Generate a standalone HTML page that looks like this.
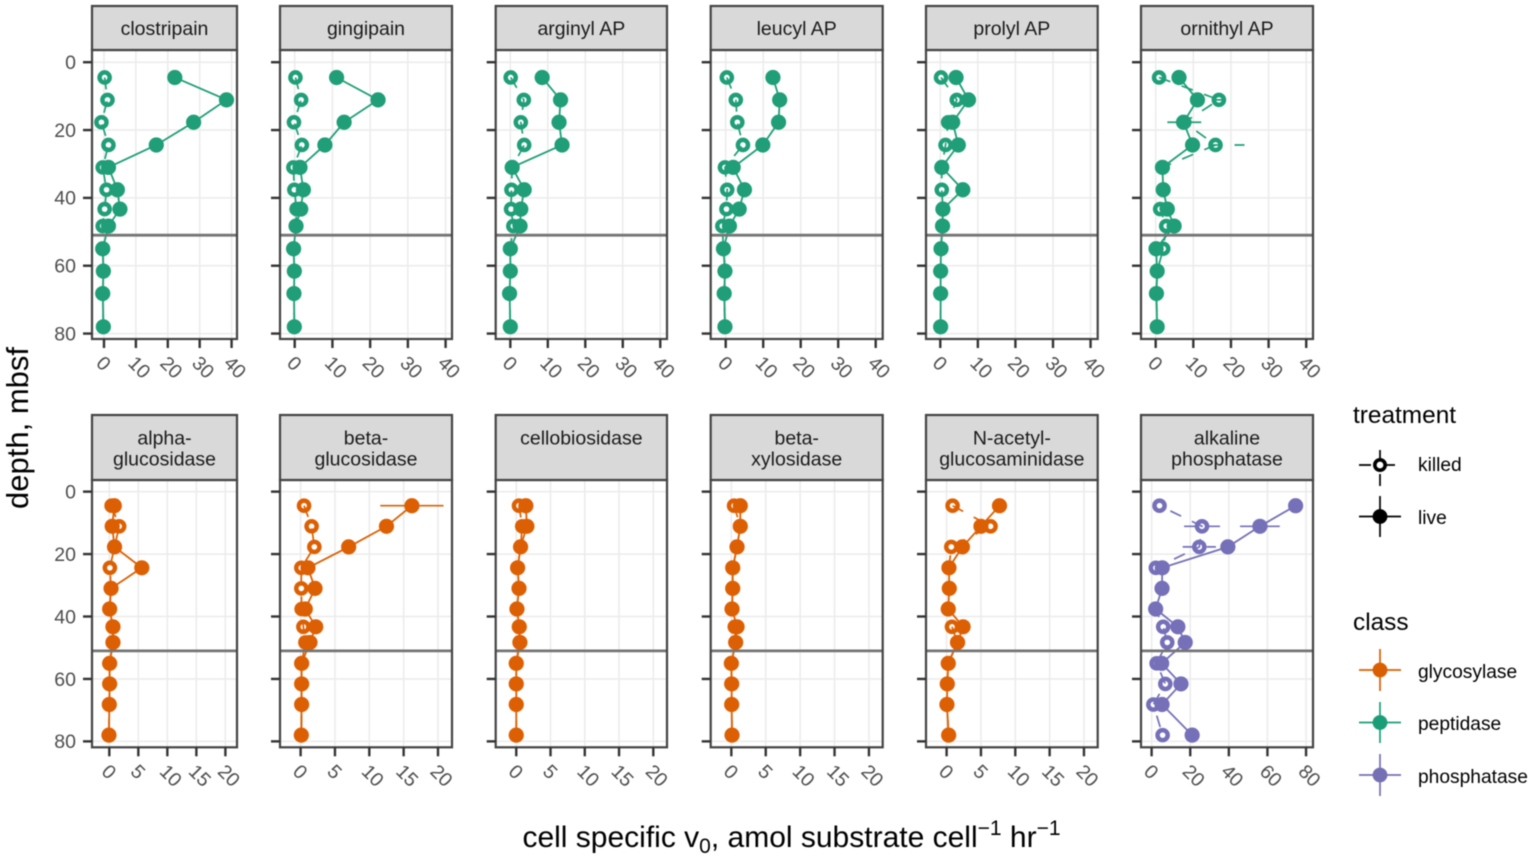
<!DOCTYPE html>
<html lang="en">
<head>
<meta charset="utf-8">
<title>Enzyme activity by depth</title>
<style>
html,body{margin:0;padding:0;background:#fff;}
svg{display:block;font-family:"Liberation Sans",Arial,sans-serif;filter:blur(0.4px);}
</style>
</head>
<body>
<svg id="chart" xmlns="http://www.w3.org/2000/svg" width="1535" height="860" viewBox="0 0 1535 860">
  <rect x="0" y="0" width="1535" height="860" fill="#ffffff"/>
  <g id="panels"></g>

  <text transform="translate(28,428) rotate(-90)" text-anchor="middle" font-size="31" fill="#000">depth, mbsf</text>
  <text x="791.5" y="847" text-anchor="middle" font-size="30" fill="#000">cell specific v<tspan font-size="21" dy="6">0</tspan><tspan dy="-6">, amol substrate cell</tspan><tspan font-size="21" dy="-12">−1</tspan><tspan dy="12"> hr</tspan><tspan font-size="21" dy="-12">−1</tspan></text>

  <g>
    <text x="1353" y="423" font-size="24.4" fill="#000">treatment</text>
    <g>
      <line x1="1359" y1="465" x2="1401" y2="465" stroke="#000" stroke-width="1.7" stroke-dasharray="12 12"/>
      <line x1="1380" y1="486" x2="1380" y2="444" stroke="#000" stroke-width="1.7" stroke-dasharray="12 12"/>
      <circle cx="1380" cy="465" r="5.2" fill="#fff" stroke="#000" stroke-width="3.6"/>
      <text x="1418" y="471" font-size="19.2" fill="#000">killed</text>
    </g>
    <g>
      <line x1="1359" y1="516.5" x2="1401" y2="516.5" stroke="#000" stroke-width="1.7"/>
      <line x1="1380" y1="496" x2="1380" y2="537" stroke="#000" stroke-width="1.7"/>
      <circle cx="1380" cy="516.5" r="7.4" fill="#000"/>
      <text x="1418" y="524" font-size="19.2" fill="#000">live</text>
    </g>
  </g>

  <g>
    <text x="1353" y="630" font-size="24.4" fill="#000">class</text>
    <g>
      <line x1="1359" y1="670" x2="1401" y2="670" stroke="#d95f02" stroke-width="1.7"/>
      <line x1="1380" y1="649" x2="1380" y2="691" stroke="#d95f02" stroke-width="1.7"/>
      <circle cx="1380" cy="670" r="7.4" fill="#d95f02"/>
      <text x="1418" y="678" font-size="19.2" fill="#000">glycosylase</text>
    </g>
    <g>
      <line x1="1359" y1="722.5" x2="1401" y2="722.5" stroke="#1b9e77" stroke-width="1.7"/>
      <line x1="1380" y1="702" x2="1380" y2="743" stroke="#1b9e77" stroke-width="1.7"/>
      <circle cx="1380" cy="722.5" r="7.4" fill="#1b9e77"/>
      <text x="1418" y="730" font-size="19.2" fill="#000">peptidase</text>
    </g>
    <g>
      <line x1="1359" y1="775" x2="1401" y2="775" stroke="#7570b3" stroke-width="1.7"/>
      <line x1="1380" y1="754" x2="1380" y2="796" stroke="#7570b3" stroke-width="1.7"/>
      <circle cx="1380" cy="775" r="7.4" fill="#7570b3"/>
      <text x="1418" y="783" font-size="19.2" fill="#000">phosphatase</text>
    </g>
  </g>
</svg>

<script>
// ---- data ----
const depths = [4.5, 11.1, 17.7, 24.4, 31, 37.6, 43.3, 48.3, 55, 61.6, 68.2, 78];
const depthTicks = [0, 20, 40, 60, 80];
const xTicksPeptidase = [0, 10, 20, 30, 40];
const xTicksGlycosylase = [0, 5, 10, 15, 20];
const xTicksPhosphatase = [0, 20, 40, 60, 80];
const interfaceDepth = 51;

const clostripainLive = [22.2, 38.4, 28.1, 16.4, 1.4, 4.2, 5, 1.4, -0.4, -0.2, -0.4, -0.2];
const clostripainKilled = [0.2, 1.1, -0.8, 1.4, -0.4, 0.8, 0.2, -0.4, -0.4, -0.2, -0.4, -0.2];
const gingipainLive = [11.1, 22.1, 13.1, 8, 1.4, 2.3, 1.6, 0.35, -0.3, -0.1, -0.2, -0.1];
const gingipainKilled = [0.2, 1.7, -0.2, 1.9, -0.35, -0.1, 0.5, 0.35, -0.3, -0.1, -0.2, -0.1];
const arginylLive = [8.5, 13.4, 13, 13.8, 0.5, 3.7, 2.8, 2.6, 0, 0, -0.2, 0];
const arginylKilled = [0.1, 3.6, 2.8, 3.7, 0.5, 0.3, 0.2, 0.8, 0, 0, -0.2, 0];
const leucylLive = [12.6, 14.4, 14.1, 9.9, 2, 5, 3.6, 1, -0.6, -0.2, -0.4, -0.2];
const leucylKilled = [0.3, 2.7, 3.1, 4.6, -0.2, 0.4, 0.2, -0.9, -0.6, -0.2, -0.4, -0.2];
const prolylLive = [4.2, 7.5, 3.3, 4.8, 0.4, 6, 0.7, 0.6, 0.2, 0.1, 0.1, 0.1];
const prolylKilled = [0.2, 4.4, 2.1, 1.4, 0.4, 0.4, 0.7, 0.6, 0.2, 0.1, 0.1, 0.1];
const ornithylLive = [6.2, 11.1, 7.4, 9.8, 1.8, 2, 3.1, 4.9, 0.1, 0.4, 0.2, 0.4];
const ornithylKilled = [0.9, 16.8, 7.6, 15.9, 1.8, 2, 1.2, 2.8, 2, 0.4, 0.2, 0.4];
const alphaGlucLive = [0.86, 0.5, 0.9, 5.6, 0.3, 0.06, 0.63, 0.63, 0.06, 0.06, 0, -0.06];
const alphaGlucKilled = [0.4, 1.7, 0.9, 0.1, 0.3, 0.06, 0.63, 0.63, 0.06, 0.06, 0, -0.06];
const betaGlucLive = [16.2, 12.5, 7, 1.07, 2.1, 0.68, 2.2, 1.36, 0.15, 0.15, 0.15, 0.1];
const betaGlucKilled = [0.5, 1.6, 2, 0.1, 0.1, 0.15, 0.4, 0.7, 0.15, 0.15, 0.15, 0.1];
const cellobiosidaseLive = [1.4, 1.55, 0.63, 0.2, 0.4, 0.1, 0.44, 0.53, 0, 0, 0, 0];
const cellobiosidaseKilled = [0.4, 0.87, 0.63, 0.2, 0.4, 0.1, 0.44, 0.53, 0, 0, 0, 0];
const betaXylLive = [1.3, 1.3, 0.83, 0.2, 0.2, 0.1, 0.83, 0.63, 0, 0.05, 0.05, 0.1];
const betaXylKilled = [0.4, 1.3, 0.83, 0.2, 0.2, 0.1, 0.5, 0.63, 0, 0.05, 0.05, 0.1];
const nagLive = [7.7, 5, 2.3, 0.34, 0.39, 0.24, 2.4, 1.6, 0.24, 0.1, 0.05, 0.3];
const nagKilled = [0.87, 6.4, 0.68, 0.34, 0.39, 0.24, 0.78, 1.55, 0.24, 0.1, 0.05, 0.3];
const alkalineLive = [74.6, 56.1, 39.5, 5.5, 5.4, 2.1, 13.6, 17.4, 5.2, 15.2, 5.4, 21];
const alkalineKilled = [4.1, 26.1, 24.7, 2.2, 5.4, 2.1, 6, 8.1, 2.6, 7.1, 0.9, 5.7];

const noError = [0, 0, 0, 0, 0, 0, 0, 0, 0, 0, 0, 0];
const betaGlucLiveError = [4.6, 0, 0, 0, 0, 0, 0, 0, 0, 0, 0, 0];
const alkalineLiveError = [0, 10.3, 0, 0, 0, 0, 0, 0, 0, 0, 0, 0];
const alkalineKilledError = [0, 9.3, 8.6, 0, 0, 0, 0, 0, 0, 0, 0, 0];
const ornithylKilledError = [0, 1.8, 4.5, 7.7, 0, 0, 0, 0, 0, 0, 0, 0];

// ---- layout ----
const NS = 'http://www.w3.org/2000/svg';
const colors = { glycosylase: '#dc6003', peptidase: '#1f9e77', phosphatase: '#7570b8' };
const rows = [
  { top: 50, bottom: 339, stripTop: 6, yDomain: [-3.6, 81.6] },
  { top: 480, bottom: 747.3, stripTop: 415, yDomain: [-3.73, 81.9] }
];
const columns = [{ left: 92, right: 237 }, { left: 280, right: 452 }, { left: 495.7, right: 667 }, { left: 710.7, right: 882.7 }, { left: 926, right: 1097.7 }, { left: 1141, right: 1313 }];

const panels = [
  { key: 'clostripain', title: ['clostripain'], cls: 'peptidase', row: 0, col: 0, dom: [-3.76, 41.7], ticks: xTicksPeptidase, live: clostripainLive, killed: clostripainKilled, liveErr: noError, killedErr: noError, dashPhase: 0 },
  { key: 'gingipain', title: ['gingipain'], cls: 'peptidase', row: 0, col: 1, dom: [-3.9, 41.7], ticks: xTicksPeptidase, live: gingipainLive, killed: gingipainKilled, liveErr: noError, killedErr: noError, dashPhase: 0 },
  { key: 'arginyl-ap', title: ['arginyl AP'], cls: 'peptidase', row: 0, col: 2, dom: [-3.9, 41.8], ticks: xTicksPeptidase, live: arginylLive, killed: arginylKilled, liveErr: noError, killedErr: noError, dashPhase: 0 },
  { key: 'leucyl-ap', title: ['leucyl AP'], cls: 'peptidase', row: 0, col: 3, dom: [-4, 41.87], ticks: xTicksPeptidase, live: leucylLive, killed: leucylKilled, liveErr: noError, killedErr: noError, dashPhase: 0 },
  { key: 'prolyl-ap', title: ['prolyl AP'], cls: 'peptidase', row: 0, col: 4, dom: [-3.8, 41.9], ticks: xTicksPeptidase, live: prolylLive, killed: prolylKilled, liveErr: noError, killedErr: noError, dashPhase: 0 },
  { key: 'ornithyl-ap', title: ['ornithyl AP'], cls: 'peptidase', row: 0, col: 5, dom: [-3.9, 41.8], ticks: xTicksPeptidase, live: ornithylLive, killed: ornithylKilled, liveErr: noError, killedErr: ornithylKilledError, dashPhase: 0 },
  { key: 'alpha-glucosidase', title: ['alpha-', 'glucosidase'], cls: 'glycosylase', row: 1, col: 0, dom: [-2.98, 22], ticks: xTicksGlycosylase, live: alphaGlucLive, killed: alphaGlucKilled, liveErr: noError, killedErr: noError, dashPhase: 0 },
  { key: 'beta-glucosidase', title: ['beta-', 'glucosidase'], cls: 'glycosylase', row: 1, col: 1, dom: [-3, 22.04], ticks: xTicksGlycosylase, live: betaGlucLive, killed: betaGlucKilled, liveErr: betaGlucLiveError, killedErr: noError, dashPhase: 0 },
  { key: 'cellobiosidase', title: ['cellobiosidase'], cls: 'glycosylase', row: 1, col: 2, dom: [-3, 22], ticks: xTicksGlycosylase, live: cellobiosidaseLive, killed: cellobiosidaseKilled, liveErr: noError, killedErr: noError, dashPhase: 0 },
  { key: 'beta-xylosidase', title: ['beta-', 'xylosidase'], cls: 'glycosylase', row: 1, col: 3, dom: [-3, 22], ticks: xTicksGlycosylase, live: betaXylLive, killed: betaXylKilled, liveErr: noError, killedErr: noError, dashPhase: 0 },
  { key: 'n-acetyl-glucosaminidase', title: ['N-acetyl-', 'glucosaminidase'], cls: 'glycosylase', row: 1, col: 4, dom: [-3, 22], ticks: xTicksGlycosylase, live: nagLive, killed: nagKilled, liveErr: noError, killedErr: noError, dashPhase: 0 },
  { key: 'alkaline-phosphatase', title: ['alkaline', 'phosphatase'], cls: 'phosphatase', row: 1, col: 5, dom: [-5.5, 83.6], ticks: xTicksPhosphatase, live: alkalineLive, killed: alkalineKilled, liveErr: alkalineLiveError, killedErr: alkalineKilledError, dashPhase: 12 }
];

function mk(tag, attrs, parent) {
  const el = document.createElementNS(NS, tag);
  for (const k in attrs) el.setAttribute(k, attrs[k]);
  parent.appendChild(el);
  return el;
}

const root = document.getElementById('panels');

panels.forEach(function (p) {
  const row = rows[p.row];
  const col = columns[p.col];
  const xScale = function (v) { return col.left + (v - p.dom[0]) / (p.dom[1] - p.dom[0]) * (col.right - col.left); };
  const yScale = function (d) { return row.top + (d - row.yDomain[0]) / (row.yDomain[1] - row.yDomain[0]) * (row.bottom - row.top); };
  const color = colors[p.cls];
  const w = col.right - col.left;
  const h = row.bottom - row.top;

  const g = mk('g', {}, root);
  
  

  const bg = mk('rect', { x: col.left, y: row.top, width: w, height: h, fill: '#fff' }, g);
  
  

  // gridlines
  p.ticks.forEach(function (t) {
    const gl = mk('line', { x1: xScale(t), x2: xScale(t), y1: row.top, y2: row.bottom, stroke: '#ebebeb', 'stroke-width': 1.5 }, g);
    
    
  });
  depthTicks.forEach(function (t) {
    const gl = mk('line', { x1: col.left, x2: col.right, y1: yScale(t), y2: yScale(t), stroke: '#ebebeb', 'stroke-width': 1.5 }, g);
    
    
  });

  // killed series
  const killedPts = p.killed.map(function (v, i) { return xScale(v).toFixed(2) + ',' + yScale(depths[i]).toFixed(2); }).join(' ');
  p.killed.forEach(function (v, i) {
    const outer = mk('circle', { cx: xScale(v), cy: yScale(depths[i]), r: 7.3, fill: color }, g);
    
    
    const inner = mk('circle', { cx: xScale(v), cy: yScale(depths[i]), r: 2.8, fill: '#fff' }, g);
    
    
  });
  const killedLine = mk('polyline', { points: killedPts, fill: 'none', stroke: color, 'stroke-width': 1.7, 'stroke-dasharray': '12 12', 'stroke-dashoffset': p.dashPhase }, g);
  
  
  p.killedErr.forEach(function (e, i) {
    if (e > 0) {
      const bar = mk('line', { x1: xScale(p.killed[i] - e), x2: xScale(p.killed[i] + e), y1: yScale(depths[i]), y2: yScale(depths[i]), stroke: color, 'stroke-width': 1.7, 'stroke-dasharray': '12 12' }, g);
      
      
    }
  });

  // live series
  const livePts = p.live.map(function (v, i) { return xScale(v).toFixed(2) + ',' + yScale(depths[i]).toFixed(2); }).join(' ');
  const liveLine = mk('polyline', { points: livePts, fill: 'none', stroke: color, 'stroke-width': 1.8 }, g);
  
  
  p.liveErr.forEach(function (e, i) {
    if (e > 0) {
      const bar = mk('line', { x1: xScale(p.live[i] - e), x2: xScale(p.live[i] + e), y1: yScale(depths[i]), y2: yScale(depths[i]), stroke: color, 'stroke-width': 1.7 }, g);
      
      
    }
  });
  p.live.forEach(function (v, i) {
    const c = mk('circle', { cx: xScale(v), cy: yScale(depths[i]), r: 7.6, fill: color }, g);
    
    
  });

  // sediment interface line
  const iface = mk('line', { x1: col.left, x2: col.right, y1: yScale(interfaceDepth), y2: yScale(interfaceDepth), stroke: '#757575', 'stroke-width': 2.8 }, g);
  
  

  // panel border
  const border = mk('rect', { x: col.left, y: row.top, width: w, height: h, fill: 'none', stroke: '#444', 'stroke-width': 2.2 }, g);
  
  

  // strip
  const strip = mk('rect', { x: col.left, y: row.stripTop, width: w, height: row.top - row.stripTop, fill: '#d9d9d9', stroke: '#444', 'stroke-width': 2.2 }, g);
  
  
  p.title.forEach(function (line, i) {
    const by = p.row === 0 ? 35 : 444.5 + i * 21;
    const t = mk('text', { x: (col.left + col.right) / 2, y: by, 'text-anchor': 'middle', 'font-size': 19.5, fill: '#1a1a1a' }, g);
    t.textContent = line;
    
    
  });

  // x ticks and labels
  p.ticks.forEach(function (t) {
    const x = xScale(t);
    const tk = mk('line', { x1: x, x2: x, y1: row.bottom, y2: row.bottom + 9, stroke: '#333', 'stroke-width': 2.4 }, g);
    
    
    const lx = x - 4;
    const ly = row.bottom + 20.5;
    const lb = mk('text', { x: lx, y: ly, dy: '0.35em', transform: 'rotate(45 ' + lx + ' ' + ly + ')', 'font-size': 19.5, fill: '#4d4d4d' }, g);
    lb.textContent = String(t);
    
    
  });

  // y ticks and labels
  depthTicks.forEach(function (t) {
    const y = yScale(t);
    const tk = mk('line', { x1: col.left - 9, x2: col.left, y1: y, y2: y, stroke: '#333', 'stroke-width': 2.4 }, g);
    
    
    if (p.col === 0) {
      const lb = mk('text', { x: 76, y: y, dy: '0.35em', 'text-anchor': 'end', 'font-size': 19.5, fill: '#4d4d4d' }, g);
      lb.textContent = String(t);
      
      
    }
  });
});
</script>
</body>
</html>
